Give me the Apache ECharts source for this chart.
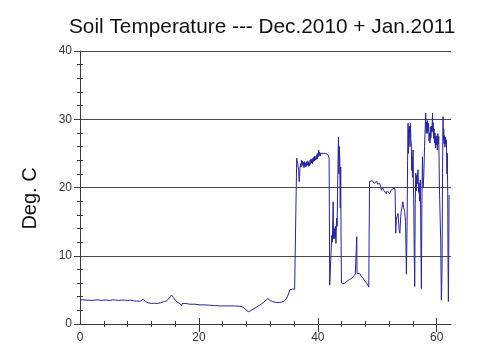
<!DOCTYPE html>
<html>
<head>
<meta charset="utf-8">
<script src="https://cdn.jsdelivr.net/npm/echarts@6/dist/echarts.min.js"></script>
<style>html,body{margin:0;padding:0;background:#fff;}#chart{width:500px;height:350px;}</style>
</head>
<body>
<div id="chart"></div>
<script>
// Day of record (0 = 1 Dec 2010)
var day = [
  0, 0.5, 1, 1.5, 2, 2.5, 3, 3.5, 4, 4.5, 5, 5.5, 6, 6.5, 7, 7.5, 8, 8.5, 9, 9.5,
  9.8, 10.2, 10.6, 11.0, 11.5, 12.0, 12.5, 13.0, 13.5, 13.8, 14.2, 14.6, 15.0, 15.4, 15.7, 16.0,
  16.4, 16.8, 17.0, 17.1, 17.2, 17.8, 18.5, 19.3, 20.2, 21.0, 21.8, 22.6, 23.5, 24.3, 25.2, 26.0,
  26.9, 27.4, 27.9, 28.3, 28.7, 29.1, 29.7, 30.3, 30.9, 31.6, 32.0, 32.5, 33.0, 33.6, 34.3, 34.7,
  35.0, 35.3, 35.7, 36.1, 36.4,
  36.45, 36.5, 36.6, 36.7, 36.78, 36.86, 36.93, 37.0, 37.1, 37.18,
  37.26, 37.34, 37.42, 37.5, 37.58, 37.66, 37.74, 37.82, 37.9, 37.98,
  38.06, 38.14, 38.22, 38.3, 38.38, 38.46, 38.54, 38.62, 38.7, 38.78,
  38.86, 38.94, 39.02, 39.1, 39.18, 39.26, 39.34, 39.42, 39.5, 39.58,
  39.66, 39.74, 39.82, 39.9, 39.98, 40.06, 40.14, 40.22, 40.3, 40.38,
  40.46, 40.54, 40.62, 40.7, 40.9, 41.1, 41.3, 41.5, 41.7, 41.9,
  42.0, 42.2, 42.35, 42.45, 42.58, 42.65, 42.75, 42.86, 42.95, 43.05, 43.15, 43.25, 43.35, 43.47,
  43.55, 43.62, 43.7, 43.78, 43.85, 43.92, 43.98,
  44.1, 44.4, 44.8, 45.0, 45.3, 45.7, 46.0, 46.3, 46.5, 46.55, 46.6, 47.06, 47.3, 47.6, 47.9,
  48.2, 48.4, 48.57, 48.7, 48.85, 49.0, 49.15, 49.3, 49.45, 49.6, 49.75, 49.9, 50.05, 50.2, 50.4,
  50.55, 50.7, 50.85, 51.0, 51.15, 51.3, 51.5, 51.65, 51.8, 51.95, 52.1, 52.25, 52.4, 52.55, 52.7, 52.9,
  53.0, 53.1, 53.2, 53.3, 53.5, 53.67, 53.8, 53.95, 54.06, 54.2, 54.3, 54.45, 54.6, 54.75, 54.9,
  55.01, 55.1, 55.18, 55.25, 55.3, 55.35, 55.42, 55.5, 55.58, 55.65,
  55.72, 55.8, 55.86, 55.94, 56.02, 56.08, 56.13, 56.22, 56.3, 56.38,
  56.47, 56.55, 56.62, 56.7, 56.78, 56.86, 56.95, 57.03, 57.1, 57.18,
  57.25, 57.33, 57.42, 57.5, 57.6, 57.7, 57.82, 57.95, 58.05, 58.15,
  58.22, 58.3, 58.38, 58.46, 58.54, 58.62, 58.71, 58.8, 58.87, 58.94,
  59.02, 59.1, 59.2, 59.29, 59.34, 59.4, 59.47, 59.55, 59.62, 59.7,
  59.78, 59.86, 59.94, 60.02, 60.1, 60.18, 60.28, 60.34, 60.39, 60.45,
  60.5, 60.6, 60.67, 60.73, 60.78, 60.84, 60.9, 60.98, 61.06, 61.12,
  61.18, 61.23, 61.3, 61.38, 61.45, 61.52, 61.6, 61.66, 61.72, 61.78,
  61.85, 61.9, 61.96, 62.02, 62.07
];
// Soil temperature, deg C
var soilTemp = [
  3.5, 3.55, 3.5, 3.5, 3.45, 3.5, 3.55, 3.45, 3.5, 3.5, 3.45, 3.55, 3.5, 3.45, 3.5, 3.5, 3.45, 3.5, 3.4, 3.35,
  3.25, 3.35, 3.65, 3.3, 3.1, 3.0, 3.05, 3.0, 3.1, 3.35, 3.3, 3.4, 3.8, 4.25, 3.9, 3.5,
  3.2, 3.0, 3.0, 2.7, 3.0, 3.0, 2.9, 2.9, 2.8, 2.8, 2.75, 2.7, 2.65, 2.65, 2.65, 2.65,
  2.6, 2.5, 2.1, 1.8, 1.95, 2.15, 2.5, 2.8, 3.2, 3.75, 3.45, 3.25, 3.15, 3.15, 3.3, 3.7,
  4.25, 5.0, 5.1, 5.1, 5.2,
  24.3, 24.0, 23.6, 23.8, 22.5, 20.85, 21.6, 22.8, 23.5, 23.0,
  24.0, 23.4, 23.9, 23.2, 23.7, 22.9, 23.8, 23.1, 23.6, 23.0,
  23.7, 23.2, 23.9, 23.3, 23.8, 23.1, 23.6, 23.2, 24.0, 23.4,
  24.2, 23.6, 24.1, 23.5, 24.3, 23.8, 24.5, 23.9, 24.6, 24.0,
  24.4, 24.1, 24.8, 24.2, 25.0, 24.5, 25.5, 24.7, 25.2, 24.6,
  25.0, 24.8, 25.1, 24.9, 25.0, 24.9, 25.0, 24.9, 24.8, 24.3,
  5.7, 5.9, 13.0, 12.0, 17.9, 12.5, 14.0, 12.5, 14.3, 11.8, 15.5, 14.3, 21.0, 27.4,
  22.0, 26.0, 24.0, 17.0, 23.0, 11.0, 6.0,
  6.0, 5.9, 6.2, 6.3, 6.5, 6.7, 7.0, 7.3, 7.4, 12.8, 7.4, 7.4, 7.0, 6.7, 6.3,
  6.0, 5.7, 5.4, 20.9, 20.85, 20.7, 21.0, 21.1, 20.6, 20.4, 20.7, 20.9, 20.5, 20.4, 20.6,
  20.2, 19.6, 20.0, 19.9, 19.5, 19.4, 19.1, 19.5, 19.6, 19.3, 19.1, 19.5, 19.7, 19.8, 19.9, 19.9,
  19.6, 13.3, 15.2, 15.7, 16.2, 13.8, 13.3, 15.8, 16.7, 17.3, 17.9, 17.0, 16.5, 15.0, 7.3,
  14.3, 24.0, 29.4, 25.0, 28.6, 27.2, 29.0, 26.0, 29.4, 27.0,
  26.5, 22.5, 24.5, 21.5, 25.5, 20.0, 18.2, 10.0, 5.5, 17.5,
  22.1, 19.5, 21.8, 20.5, 22.0, 22.6, 19.3, 20.6, 18.0, 20.5,
  21.1, 12.0, 5.2, 17.0, 24.5, 20.0, 21.6, 26.0, 28.5, 30.9,
  28.0, 29.6, 27.9, 29.8, 28.2, 29.4, 26.8, 28.0, 26.5, 28.9,
  27.3, 29.0, 28.1, 30.9, 28.3, 29.5, 27.2, 28.6, 26.5, 28.0,
  25.8, 27.6, 26.2, 27.5, 25.5, 27.9, 26.4, 27.5, 24.5, 20.0,
  18.2, 14.5, 12.3, 7.0, 3.5, 5.5, 8.4, 22.0, 30.4, 27.0,
  28.5, 26.4, 27.6, 25.9, 27.4, 26.3, 27.0, 25.5, 22.0, 25.0,
  19.1, 9.0, 3.3, 10.0, 18.9
];
// Axis ticks
var xLabelTicks = [0, 20, 40, 60];
var xMajorTicks = [20, 40, 60];
var xMinorTicks = [4, 8, 12, 16, 24, 28, 32, 36, 44, 48, 52, 56];
var yMinorTicks = [2, 4, 6, 8, 12, 14, 16, 18, 22, 24, 26, 28, 32, 34, 36, 38];

var points = day.map(function (d, i) { return [d, soilTemp[i]]; });

var AX = '#3a3a3a';
var FONT = '"Liberation Sans", Arial, sans-serif';

function overlayX(values, inside, len) {
  return {
    type: 'value', min: 0, max: 62.4, position: 'bottom',
    axisLine: { show: false },
    axisLabel: { show: false },
    splitLine: { show: false },
    axisTick: { show: true, inside: inside, length: len, customValues: values, lineStyle: { color: AX, width: 1 } }
  };
}
function overlayY(values, inside, len) {
  return {
    type: 'value', min: 0, max: 40, position: 'left',
    axisLine: { show: false },
    axisLabel: { show: false },
    splitLine: { show: false },
    axisTick: { show: true, inside: inside, length: len, customValues: values, lineStyle: { color: AX, width: 1 } }
  };
}

var chart = echarts.init(document.getElementById('chart'), null, { renderer: 'canvas' });
chart.setOption({
  animation: false,
  backgroundColor: '#ffffff',
  title: {
    text: 'Soil Temperature --- Dec.2010 + Jan.2011',
    left: 64, top: 12,
    textStyle: { fontFamily: FONT, fontSize: 20.8, fontWeight: 'normal', color: '#111' }
  },
  grid: { left: 80, right: 49, top: 51, bottom: 26 },
  xAxis: [
    {
      type: 'value', min: 0, max: 62.4, position: 'bottom',
      axisLine: { show: true, onZero: false, lineStyle: { color: AX, width: 1 } },
      axisTick: { show: true, inside: false, length: 8, customValues: xMajorTicks, lineStyle: { color: AX } },
      axisLabel: { customValues: xLabelTicks, margin: 8, fontFamily: FONT, fontSize: 12, color: '#333' },
      splitLine: { show: false }
    },
    overlayX(xMajorTicks, true, 6),
    overlayX(xMinorTicks, true, 3),
    overlayX(xMinorTicks, false, 3)
  ],
  yAxis: [
    {
      type: 'value', min: 0, max: 40, interval: 10, position: 'left',
      name: 'Deg. C', nameLocation: 'middle', nameGap: 40,
      nameTextStyle: { fontFamily: FONT, fontSize: 20, color: '#111', padding: [0, 22, 0, 0] },
      axisLine: { show: true, lineStyle: { color: AX, width: 1 } },
      axisTick: { show: true, inside: false, length: 6, lineStyle: { color: AX } },
      axisLabel: { margin: 8, fontFamily: FONT, fontSize: 12, color: '#333' },
      splitLine: { show: true, lineStyle: { color: '#4a4a4a', width: 1 } }
    },
    overlayY(yMinorTicks, true, 3),
    overlayY(yMinorTicks, false, 3)
  ],
  series: [{
    type: 'line',
    data: points,
    xAxisIndex: 0, yAxisIndex: 0,
    showSymbol: false,
    symbol: 'none',
    lineStyle: { color: '#2323a8', width: 1 },
    z: 5
  }]
});
</script>
</body>
</html>
